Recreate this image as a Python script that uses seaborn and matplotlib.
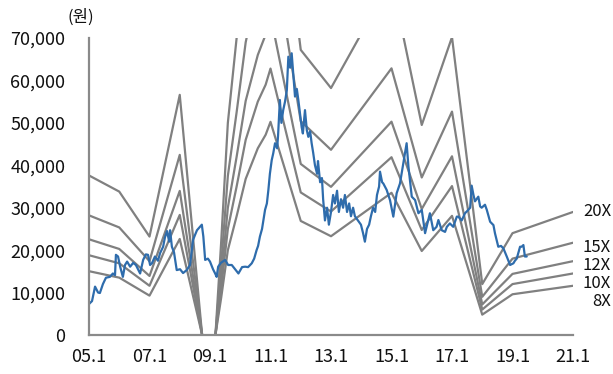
import matplotlib
matplotlib.use("Agg")
import matplotlib.pyplot as plt
import seaborn as sns
import pandas as pd
from matplotlib.ticker import FuncFormatter

# ---- data ----
price_t = [2005.00, 2005.10, 2005.20, 2005.30, 2005.36, 2005.46, 2005.56, 2005.69, 2005.79, 2005.86,
           2005.89, 2005.96, 2006.03, 2006.12, 2006.19, 2006.26, 2006.36, 2006.46, 2006.55, 2006.69,
           2006.79, 2006.88, 2006.95, 2007.02, 2007.08, 2007.18, 2007.28, 2007.35, 2007.45, 2007.51,
           2007.58, 2007.65, 2007.68, 2007.74, 2007.81, 2007.90, 2008.01, 2008.11, 2008.23, 2008.34,
           2008.44, 2008.50, 2008.57, 2008.67, 2008.73, 2008.78, 2008.84, 2008.93, 2009.00, 2009.10,
           2009.17, 2009.22, 2009.27, 2009.36, 2009.50, 2009.60, 2009.72, 2009.83, 2009.94, 2010.06,
           2010.16, 2010.26, 2010.38, 2010.46, 2010.54, 2010.59, 2010.65, 2010.72, 2010.82, 2010.88,
           2010.93, 2010.98, 2011.04, 2011.09, 2011.15, 2011.22, 2011.25, 2011.31, 2011.36, 2011.42,
           2011.48, 2011.54, 2011.59, 2011.65, 2011.70, 2011.75, 2011.81, 2011.87, 2011.92, 2011.98,
           2012.03, 2012.07, 2012.14, 2012.20, 2012.25, 2012.31, 2012.36, 2012.41, 2012.47, 2012.54,
           2012.57, 2012.64, 2012.70, 2012.74, 2012.80, 2012.87, 2012.93, 2013.00, 2013.07, 2013.13,
           2013.20, 2013.26, 2013.33, 2013.40, 2013.46, 2013.53, 2013.60, 2013.66, 2013.73, 2013.79,
           2013.89, 2013.99, 2014.06, 2014.12, 2014.19, 2014.26, 2014.32, 2014.39, 2014.46, 2014.52,
           2014.59, 2014.62, 2014.69, 2014.73, 2014.84, 2014.95, 2015.06, 2015.17, 2015.28, 2015.39,
           2015.50, 2015.56, 2015.67, 2015.78, 2015.89, 2016.00, 2016.11, 2016.21, 2016.27, 2016.38,
           2016.49, 2016.55, 2016.66, 2016.77, 2016.83, 2016.93, 2017.04, 2017.16, 2017.21, 2017.32,
           2017.43, 2017.54, 2017.60, 2017.65, 2017.71, 2017.76, 2017.87, 2017.93, 2017.98, 2018.09,
           2018.15, 2018.26, 2018.37, 2018.42, 2018.53, 2018.62, 2018.70, 2018.81, 2018.92, 2019.03,
           2019.08, 2019.14, 2019.19, 2019.25, 2019.30, 2019.36, 2019.41, 2019.47]
price_v = [7300, 8000, 11400, 10000, 9900, 12000, 13500, 13700, 14500, 14100,
           18900, 18500, 16100, 13700, 16500, 17300, 16100, 17000, 16500, 14500,
           17700, 19000, 18900, 16500, 16900, 18500, 17500, 19300, 20800, 23000,
           24500, 22000, 24700, 20800, 19500, 15300, 15500, 14600, 15300, 16500,
           22400, 23500, 24700, 25500, 26000, 23200, 17700, 18000, 17300, 15500,
           14500, 13700, 16100, 17000, 17700, 16500, 16500, 15500, 14500, 16000,
           16100, 16000, 16900, 18000, 20000, 21000, 23200, 25000, 29500, 31000,
           34200, 38000, 41200, 42800, 45200, 44000, 47000, 55400, 50000, 53000,
           55000, 57700, 65600, 63000, 66400, 61700, 56200, 58000, 55400, 52000,
           49000, 47500, 53000, 48300, 46700, 48000, 45200, 43000, 40000, 38000,
           41000, 36000, 37000, 32000, 27000, 30000, 26000, 29000, 33000, 31000,
           34000, 29000, 32000, 30000, 33000, 29000, 31000, 28000, 30000, 28000,
           27000, 26000, 24000, 22000, 25000, 26000, 28000, 30000, 29000, 33000,
           35000, 38500, 36000, 35700, 34200, 31800, 27900, 33400, 35700, 40500,
           45200, 39700, 32600, 31800, 28700, 29500, 24000, 27000, 28700, 24700,
           25500, 27100, 24700, 24300, 25500, 26300, 25500, 27900, 27900, 27000,
           28700, 29500, 30000, 35200, 33000, 31500, 32600, 30300, 30000, 30700,
           29500, 26700, 25900, 24000, 20800, 21000, 20400, 18500, 16500, 16900,
           17500, 18000, 19300, 20800, 20800, 21200, 18500, 18500]

eps_t = [2005.0, 2006.0, 2007.0, 2008.0, 2008.74, 2009.0, 2009.18, 2009.37, 2009.59, 2009.88,
         2010.18, 2010.58, 2010.84, 2011.0, 2012.0, 2013.0, 2015.0, 2016.0, 2017.0, 2018.0,
         2019.0, 2021.0]
eps_v = [1880, 1690, 1160, 2830, 0, -400, 0, 1100, 2500, 3500,
         4600, 5500, 5900, 6280, 3360, 2910, 4190, 2475, 3510, 600,
         1200, 1450]

multiples = [20, 15, 12, 10, 8]
band_labels = ["20X", "15X", "12X", "10X", "8X"]

x_ticks = [2005, 2007, 2009, 2011, 2013, 2015, 2017, 2019, 2021]
x_tick_labels = ["05.1", "07.1", "09.1", "11.1", "13.1", "15.1", "17.1", "19.1", "21.1"]
y_ticks = [0, 10000, 20000, 30000, 40000, 50000, 60000, 70000]

# ---- style ----
sns.set_style("white")
plt.rcParams["font.family"] = ["Noto Sans CJK KR", "DejaVu Sans"]

GRAY = "#808080"
BLUE = "#2e6cac"
SPINE = "#8a8a8a"

fig = plt.figure(figsize=(6.13, 3.74), dpi=100)
ax = fig.add_axes([89 / 613, 1 - 335 / 374, (573 - 89) / 613, (335 - 38) / 374])

bands = []
for m, lab in zip(multiples, band_labels):
    for t, e in zip(eps_t, eps_v):
        bands.append({"t": t, "v": e * m, "band": lab})
band_df = pd.DataFrame(bands)
price_df = pd.DataFrame({"t": price_t, "v": price_v})

sns.lineplot(data=band_df, x="t", y="v", units="band", estimator=None, sort=False,
             color=GRAY, linewidth=1.6, ax=ax)
sns.lineplot(data=price_df, x="t", y="v", estimator=None, sort=False,
             color=BLUE, linewidth=1.6, ax=ax)

ax.set_xlim(2005, 2021)
ax.set_ylim(0, 70000)
ax.set_xticks(x_ticks)
ax.set_xticklabels(x_tick_labels)
ax.set_yticks(y_ticks)
ax.yaxis.set_major_formatter(FuncFormatter(lambda v, p: f"{int(v):,}"))
ax.set_xlabel("")
ax.set_ylabel("")

for s in ["top", "right"]:
    ax.spines[s].set_visible(False)
for s in ["left", "bottom"]:
    ax.spines[s].set_color(SPINE)
    ax.spines[s].set_linewidth(1.6)

ax.tick_params(axis="both", which="major", direction="out", length=4, width=1.4,
               color=SPINE, labelsize=13, labelcolor="#111111")
ax.tick_params(axis="y", pad=13)
ax.tick_params(axis="x", pad=5)

fig.text(80.5 / 613, 1 - 17 / 374, "(원)", ha="center", va="center", fontsize=12, color="#111111")

label_y = [211.0, 247.0, 265.0, 283.0, 302.0]
for lab, yp in zip(band_labels, label_y):
    fig.text(611 / 613, 1 - yp / 374, lab, ha="right", va="center", fontsize=12, color="#111111")

fig.savefig("out.png", dpi=100)
